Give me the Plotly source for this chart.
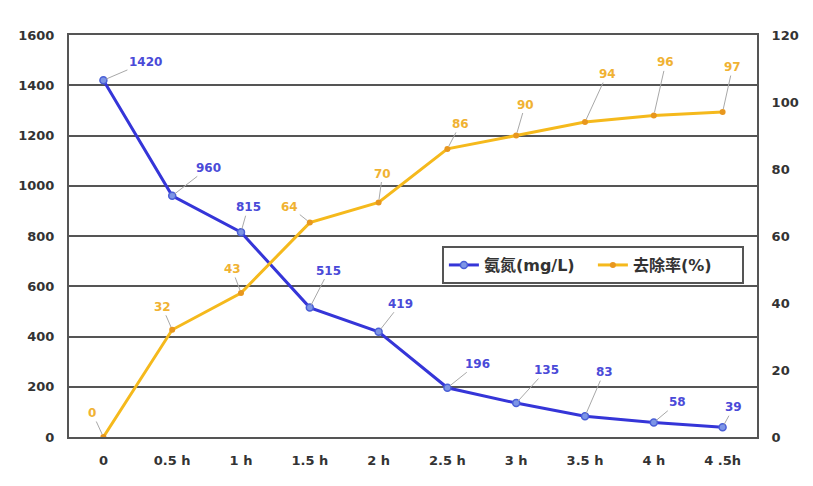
import plotly.graph_objects as go
from plotly.subplots import make_subplots

hours = ["0", "0.5 h", "1 h", "1.5 h", "2 h", "2.5 h", "3 h", "3.5 h", "4 h", "4 .5h"]
ammonia = [1420, 960, 815, 515, 419, 196, 135, 83, 58, 39]
removal = [0, 32, 43, 64, 70, 86, 90, 94, 96, 97]

# label offsets (px) for the data labels
blue_off = [(42, -18), (36, -28), (7, -25), (19, -37), (22, -28),
            (30, -24), (30, -33), (19, -44), (24, -20), (11, -20)]
orange_off = [(-11, -24), (-10, -23), (-9, -24), (-20, -16), (4, -29),
              (13, -25), (9, -31), (22, -48), (12, -53), (10, -45)]

BLUE = "#3535d8"
ORANGE = "#f5b91c"
FONT = "DejaVu Sans, Noto Sans CJK SC"

fig = make_subplots(specs=[[{"secondary_y": True}]])

fig.add_trace(
    go.Scatter(x=hours, y=ammonia, mode="lines+markers", name="氨氮(mg/L)",
               line=dict(color=BLUE, width=3),
               marker=dict(size=7, color="#7d95e6", line=dict(color="#4a5fd6", width=1.5))),
    secondary_y=False)

fig.add_trace(
    go.Scatter(x=hours, y=removal, mode="lines+markers", name="去除率(%)",
               line=dict(color=ORANGE, width=3),
               marker=dict(size=6, color="#e8971e")),
    secondary_y=True)

for h, v, (dx, dy) in zip(hours, ammonia, blue_off):
    fig.add_annotation(x=h, y=v, yref="y", text=str(v), showarrow=True,
                       arrowhead=0, arrowwidth=1, arrowcolor="#a8a8a8",
                       ax=dx, ay=dy, standoff=3,
                       font=dict(family=FONT, size=12, color="#4a4ad8", weight="bold"))

for h, v, (dx, dy) in zip(hours, removal, orange_off):
    fig.add_annotation(x=h, y=v, yref="y2", text=str(v), showarrow=True,
                       arrowhead=0, arrowwidth=1, arrowcolor="#a8a8a8",
                       ax=dx, ay=dy, standoff=3,
                       font=dict(family=FONT, size=12, color="#f0b232", weight="bold"))

fig.update_xaxes(type="category", domain=[0, 1], range=[-0.5, 9.5], showgrid=False,
                 showline=True, linecolor="#555555", linewidth=2, mirror=True, ticks="",
                 automargin=False, ticklabelstandoff=10,
                 tickfont=dict(family=FONT, size=13, color="#333333", weight="bold"))
fig.update_yaxes(range=[0, 1600], dtick=200, showgrid=True, gridcolor="#555555", gridwidth=2,
                 showline=True, linecolor="#555555", linewidth=2, zeroline=False,
                 ticks="", automargin=False, ticklabelstandoff=10,
                 tickfont=dict(family=FONT, size=13, color="#333333", weight="bold"),
                 secondary_y=False)
fig.update_yaxes(range=[0, 120], dtick=20, showgrid=False, showline=True,
                 linecolor="#555555", linewidth=2, zeroline=False, ticks="", automargin=False,
                 ticklabelstandoff=10,
                 tickfont=dict(family=FONT, size=13, color="#333333", weight="bold"),
                 secondary_y=True)

# page body has an 8px margin, so the figure is a bit smaller than the window
fig.update_layout(
    width=805, height=478,
    paper_bgcolor="white", plot_bgcolor="white",
    margin=dict(l=61, r=56, t=27, b=49, autoexpand=False),
    showlegend=True,
    legend=dict(orientation="h", x=0.542, y=0.475, xanchor="left", yanchor="top",
                bgcolor="white", bordercolor="#555555", borderwidth=2,
                entrywidth=104, itemwidth=30,
                font=dict(family=FONT, size=16, color="#333333", weight="bold")),
)

fig.write_html("out.html")
